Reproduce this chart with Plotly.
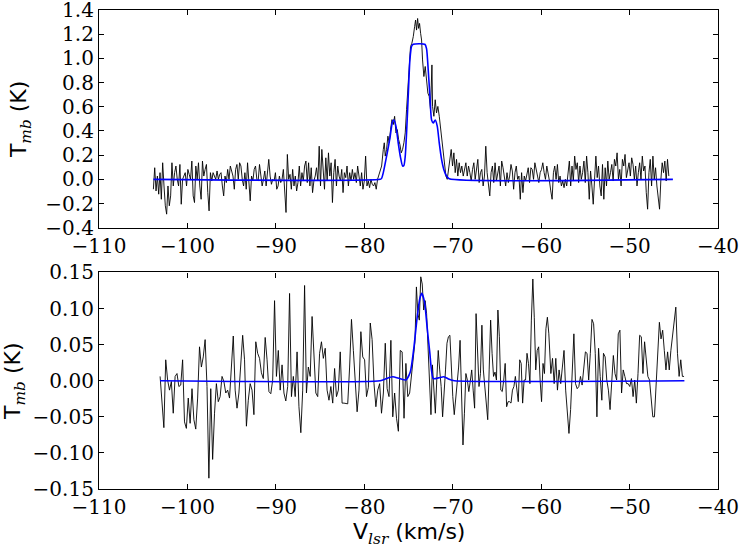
import numpy as np
import plotly.graph_objects as go
from plotly.subplots import make_subplots

# -- upper spectrum (Tmb in K), channel width ~0.15 km/s --
DV_TOP = 0.15

top_left_v0 = -103.85
top_left_t = [
    -0.082, 0.096, -0.096, 0.027, -0.123, 0.055, -0.165, 0.137, -0.055, -0.219,
    -0.288, -0.055, -0.219, -0.137, 0.137, -0.055, 0.055, 0.110, 0.0, -0.055,
    0.123, -0.206, 0.0, 0.027, 0.055, -0.055, 0.082, 0.041, 0.0, 0.151,
    -0.137, -0.192, 0.110, 0.0, 0.137, -0.055, -0.165, 0.151, 0.027, 0.082,
    0.123, -0.110, -0.261, 0.055, -0.014, 0.055, 0.027, 0.0, 0.069, 0.0,
    0.041, 0.055, -0.055, -0.137, 0.027, -0.027, 0.082, 0.0, 0.110, 0.069,
    0.027, -0.082, 0.082, 0.123, 0.0, 0.137, 0.110, 0.0, -0.055, 0.055,
    -0.082, 0.137, -0.055, -0.178, 0.027, -0.014, 0.082, 0.110, 0.0, -0.014,
    0.123, 0.041, -0.055, 0.0, 0.069, -0.055, 0.082, 0.165, 0.027, -0.041,
    0.0, -0.014, 0.055, -0.082, -0.055, 0.027, -0.027, 0.0, 0.082, -0.069,
    -0.274, 0.206, 0.0, 0.041, -0.082, 0.082, -0.055, 0.027, -0.096, -0.027,
    0.110, -0.055, 0.055, -0.014, 0.110, 0.151, -0.027, 0.137, -0.055, 0.096,
    -0.110, -0.014, 0.027, 0.096, -0.014, 0.274, -0.055, 0.247, 0.055, -0.082,
    0.178, -0.014, 0.219, 0.027, 0.137, -0.192, 0.055, 0.165, -0.055, 0.110,
    0.027, -0.014, 0.082, -0.110, 0.055, 0.014, 0.110, -0.055, 0.055, -0.014,
    0.082, 0.0, 0.055, -0.027, 0.110, 0.0, -0.055, 0.055, -0.082, -0.014,
    0.192, -0.055, -0.014, -0.069, 0.0, -0.041, -0.055, -0.027, -0.082, 0.0,
]

top_peak_v = [
    -78.04, -77.85, -77.74, -77.63, -77.48, -77.33, -77.18, -77.03, -76.87, -76.72,
    -76.57, -76.42, -76.27, -76.12, -75.97, -75.82, -75.67, -75.52, -75.37, -75.22,
    -75.07, -74.92, -74.77, -74.62, -74.46, -74.31, -74.20, -74.09, -73.97, -73.86,
    -73.75, -73.63, -73.52, -73.41, -73.26, -73.11, -72.96, -72.81, -72.66, -72.51,
    -72.35, -72.28, -72.13, -71.98, -71.83, -71.68, -71.52, -71.37, -71.22, -71.07,
    -70.92, -70.77, -70.62, -70.47, -70.32, -70.17, -70.02, -69.87, -69.72, -69.57,
    -69.42, -69.27, -69.12, -68.97, -68.81, -68.66, -68.51, -68.36, -68.21,
]
top_peak_t = [
    0.110, 0.247, 0.302, 0.192, 0.247, 0.357, 0.302, 0.411, 0.494, 0.453,
    0.521, 0.384, 0.411, 0.329, 0.288, 0.219, 0.247, 0.302, 0.384, 0.576,
    0.768, 0.933, 1.097, 1.125, 1.180, 1.262, 1.317, 1.234, 1.330, 1.248,
    1.289, 1.207, 1.152, 0.987, 0.850, 0.933, 0.823, 0.713, 0.686, 0.576,
    0.946, 0.603, 0.521, 0.658, 0.549, 0.603, 0.521, 0.411, 0.302, 0.192,
    0.110, 0.027, 0.0, 0.082, 0.137, 0.247, 0.110, 0.219, 0.055, 0.165,
    0.027, 0.137, 0.055, 0.110, 0.027, 0.082, 0.137, 0.027, 0.110,
]

top_right_v0 = -68.06
top_right_t = [
    0.055, -0.014, 0.082, 0.137, 0.0, 0.110, 0.165, -0.027, 0.055, 0.082,
    -0.055, 0.027, 0.274, 0.055, -0.055, -0.137, 0.055, 0.110, -0.027, 0.137,
    -0.014, 0.055, 0.110, -0.055, 0.151, 0.096, 0.0, -0.055, 0.055, -0.027,
    0.027, 0.123, 0.069, -0.082, 0.055, 0.110, 0.0, 0.027, -0.165, 0.055,
    -0.110, 0.027, -0.014, 0.055, 0.096, -0.027, 0.096, 0.082, 0.0, 0.137,
    0.069, 0.027, -0.027, 0.055, 0.082, 0.137, 0.055, 0.0, 0.110, 0.055,
    -0.014, -0.096, -0.165, 0.055, 0.110, 0.0, 0.123, -0.027, 0.027, -0.055,
    -0.014, -0.069, 0.0, -0.055, 0.082, 0.151, -0.055, 0.110, -0.014, 0.192,
    0.082, 0.137, -0.027, 0.110, 0.0, 0.055, 0.151, -0.027, 0.192, 0.055,
    -0.165, 0.069, -0.055, -0.206, 0.0, 0.192, 0.014, 0.110, -0.055, -0.137,
    0.123, -0.165, 0.096, -0.055, 0.151, 0.0, 0.055, 0.123, -0.014, 0.165,
    0.110, 0.219, 0.0, 0.082, -0.055, 0.165, 0.110, 0.206, 0.014, 0.082,
    0.137, 0.027, 0.178, 0.123, 0.0, 0.110, -0.055, 0.055, 0.137, 0.0,
    0.192, 0.069, 0.110, -0.110, -0.247, 0.055, 0.165, -0.055, 0.192, 0.0,
    0.096, -0.055, -0.165, -0.247, 0.0, 0.137, 0.055, 0.151, -0.014, 0.165,
    0.027,
]

# fitted model, upper panel
fit_top_v = [
    -103.85, -78.2, -78.04, -77.85, -77.48, -77.1, -76.8, -76.65, -76.42, -76.16,
    -75.9, -75.67, -75.52, -75.37, -75.22, -75.03, -74.84, -74.65, -74.46, -73.15,
    -72.96, -72.77, -72.58, -72.39, -72.2, -71.98, -71.75, -71.52, -71.26, -71.0,
    -70.7, -70.4, -45.1,
]
fit_top_t = [
    0.0, 0.0, 0.008, 0.055, 0.19, 0.34, 0.48, 0.49, 0.44, 0.30,
    0.18, 0.11, 0.115, 0.19, 0.38, 0.69, 0.99, 1.10, 1.117, 1.117,
    1.08, 0.905, 0.69, 0.49, 0.466, 0.49, 0.44, 0.30, 0.165, 0.08,
    0.027, 0.005, 0.0,
]

# -- lower spectrum, three pieces (start, end velocity) --
bot1_range = (-103.09, -74.87)
bot1_t = [
    0.006, -0.031, -0.065, 0.029, 0.001, -0.013, -0.001, -0.045, 0.006, 0.010,
    -0.008, -0.006, 0.029, -0.057, -0.066, -0.024, -0.059, -0.011, -0.054, -0.067,
    -0.024, 0.047, 0.019, 0.033, 0.057, -0.008, -0.135, -0.011, -0.109, -0.045,
    -0.004, -0.029, -0.022, 0.006, -0.001, -0.017, -0.013, -0.024, 0.026, 0.062,
    -0.013, -0.038, -0.017, 0.029, 0.063, 0.029, -0.063, -0.027, -0.004, -0.013,
    -0.047, 0.054, 0.038, 0.031, 0.011, 0.003, 0.060, 0.029, -0.015, -0.018,
    0.001, 0.111, 0.006, 0.042, -0.013, 0.022, -0.017, -0.028, -0.008, 0.121,
    -0.022, 0.006, -0.022, 0.040, -0.036, -0.072, -0.013, 0.132, -0.017, 0.019,
    0.006, 0.089, 0.029, -0.017, -0.022, 0.038, 0.054, 0.031, 0.045, -0.013,
    -0.027, -0.008, -0.031, 0.017, -0.022, -0.013, 0.040, -0.031, -0.031, -0.031,
    -0.032, 0.019, 0.085, 0.042, 0.001, -0.043, -0.013, 0.068, 0.033, 0.029,
    -0.022, -0.009, 0.080, 0.057, -0.004, -0.036, -0.013, -0.004, -0.045, -0.017,
    0.052, -0.011, -0.022, 0.056, -0.050, -0.017, -0.052, -0.070, 0.042, 0.040,
    -0.052, 0.024, -0.022, -0.017,
]

bot2_range = (-74.27, -59.13)
bot2_t = [
    0.054, 0.130, 0.093, 0.084, 0.144, 0.134, 0.098, 0.111, 0.093, 0.047,
    0.001, -0.047, 0.022, -0.022, -0.045, 0.001, 0.042, 0.015, -0.008, -0.050,
    -0.008, 0.015, 0.052, 0.061, 0.063, 0.015, -0.022, -0.047, -0.027, -0.004,
    0.019, 0.056, -0.031, -0.089, -0.045, 0.010, 0.001, -0.015, -0.001, 0.015,
    -0.013, -0.038, 0.093, 0.038, -0.008, 0.010, 0.077, 0.015, -0.008, -0.031,
    -0.054, 0.015, 0.084, 0.038, 0.006, 0.012, 0.001, 0.098, 0.061, -0.013,
    -0.015, 0.001, 0.024, -0.036, -0.029, -0.029, -0.031, -0.013, -0.008, 0.006,
    -0.008, -0.029, 0.029, 0.024, -0.031, 0.001, 0.001, 0.038, 0.024, -0.004,
    0.084, 0.141, 0.088, 0.015, 0.042, 0.047, 0.001, -0.029, 0.024, 0.010,
    0.072, 0.088, 0.065,
]

bot3_range = (-58.90, -43.84)
bot3_t = [
    0.010, 0.031, -0.004, 0.031, -0.013, 0.015, -0.004, 0.019, 0.042, -0.013,
    -0.040, -0.073, -0.040, 0.015, 0.065, -0.004, -0.011, -0.008, 0.006, -0.006,
    0.015, 0.040, 0.038, 0.001, 0.038, 0.085, 0.079, 0.038, -0.050, 0.045,
    0.006, -0.027, 0.038, 0.033, 0.001, -0.013, -0.040, 0.001, 0.035, 0.010,
    0.001, 0.065, 0.070, -0.017, 0.015, 0.006, -0.004, -0.004, -0.008, 0.003,
    -0.022, 0.001, -0.031, 0.010, 0.063, 0.061, 0.010, 0.054, 0.029, 0.006,
    0.001, -0.022, -0.050, -0.050, 0.001, 0.042, 0.081, 0.058, 0.070, 0.042,
    0.015, 0.040, 0.015, 0.042, 0.061, 0.084, 0.102, 0.038, 0.006, 0.029,
    0.006, 0.006,
]

# fitted model, lower panel
fit_bot_v = [
    -103.1, -78.2, -77.5, -76.8, -76.0, -75.3, -74.8, -74.4, -74.0, -73.7,
    -73.5, -73.2, -72.9, -72.6, -72.2, -71.6, -71.0, -70.4, -69.8, -43.8,
]
fit_bot_t = [
    0.0, 0.0, 0.003, 0.0055, 0.003, 0.001, 0.012, 0.045, 0.09, 0.115,
    0.121, 0.11, 0.075, 0.04, 0.003, 0.004, 0.0055, 0.002, 0.0, 0.0,
]

# assemble the velocity axes
top_v = np.concatenate([
    top_left_v0 + DV_TOP * np.arange(len(top_left_t)),
    top_peak_v,
    top_right_v0 + DV_TOP * np.arange(len(top_right_t)),
])
top_t = np.concatenate([top_left_t, top_peak_t, top_right_t])

bot_v = np.concatenate([
    np.linspace(*bot1_range, len(bot1_t)),
    np.linspace(*bot2_range, len(bot2_t)),
    np.linspace(*bot3_range, len(bot3_t)),
])
bot_t = np.concatenate([bot1_t, bot2_t, bot3_t])

fig = make_subplots(rows=2, cols=1)

fig.add_trace(go.Scatter(x=top_v, y=top_t, mode="lines",
                         line=dict(color="black", width=0.9)), row=1, col=1)
fig.add_trace(go.Scatter(x=fit_top_v, y=fit_top_t, mode="lines",
                         line=dict(color="#0000ff", width=1.6, shape="spline", smoothing=0.6)),
              row=1, col=1)
fig.add_trace(go.Scatter(x=bot_v, y=bot_t, mode="lines",
                         line=dict(color="black", width=0.9)), row=2, col=1)
fig.add_trace(go.Scatter(x=fit_bot_v, y=fit_bot_t, mode="lines",
                         line=dict(color="#0000ff", width=1.6, shape="spline", smoothing=0.6)),
              row=2, col=1)

tick_font = dict(family="DejaVu Serif", size=20, color="black")
title_font = dict(family="DejaVu Sans", size=22, color="black")
sub = '<sub><span style="font-family:DejaVu Serif;font-style:italic">%s</span></sub>'

axis_style = dict(showline=True, linecolor="black", linewidth=1.2, mirror="ticks",
                  ticks="inside", ticklen=5, tickcolor="black", showgrid=False,
                  zeroline=False, tickfont=tick_font, automargin=False,
                  ticklabeloverflow="allow")

for r in (1, 2):
    fig.update_xaxes(range=[-110, -40], dtick=10, tick0=-110, row=r, col=1, **axis_style)

fig.update_yaxes(range=[-0.4, 1.4], dtick=0.2, tick0=-0.4, tickformat=".1f",
                 domain=[0.5455, 1.0], row=1, col=1,
                 title=dict(text="T" + sub % "mb" + " (K)", font=title_font, standoff=12),
                 **axis_style)
fig.update_yaxes(range=[-0.15, 0.15], dtick=0.05, tick0=-0.15, tickformat=".2f",
                 domain=[0.0, 0.452], row=2, col=1,
                 title=dict(text="T" + sub % "mb" + " (K)", font=title_font, standoff=12),
                 **axis_style)

# x label as an annotation just under the lower tick labels
fig.add_annotation(text="V" + sub % "lsr" + " (km/s)", font=title_font, showarrow=False,
                   xref="paper", yref="paper", x=0.5, y=-0.093,
                   xanchor="center", yanchor="middle")

fig.update_layout(width=739, height=549, showlegend=False,
                  plot_bgcolor="white", paper_bgcolor="white",
                  margin=dict(l=99, r=21, t=10, b=60))

# page has no body margin, so the figure sits flush in the window
fig.write_html("out.html", config={"displayModeBar": False},
               post_script="document.body.style.margin='0';")
